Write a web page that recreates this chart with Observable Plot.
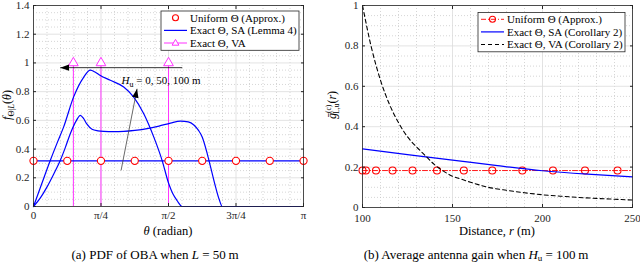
<!DOCTYPE html>
<html><head><meta charset="utf-8">
<script src="https://cdn.jsdelivr.net/npm/d3@7"></script>
<script src="https://cdn.jsdelivr.net/npm/@observablehq/plot@0.6"></script>
<style>
body{margin:0;background:#fff;}
#wrap{position:relative;width:640px;height:263px;overflow:hidden;font-family:"Liberation Serif",serif;}
.pl{position:absolute;top:0;}
.pl svg, .pl svg text{font-family:"Liberation Serif",serif !important;}
.cap{position:absolute;top:247px;font-size:13px;line-height:16px;white-space:nowrap;transform:translateX(-50%);color:#000;}
.cap sub{font-size:9px;vertical-align:-2px;line-height:0;}
</style></head><body>
<div id="wrap">
<div id="pa" class="pl" style="left:0"></div>
<div id="pb" class="pl" style="left:320px"></div>
<div class="cap" style="left:155px">(a) PDF of OBA when <i>L</i> = 50&#8201;m</div>
<div class="cap" style="left:476px">(b) Average antenna gain when <i>H</i><sub>u</sub> = 100&#8201;m</div>
</div>
<script>
// ---------- Panel (a) data ----------
const xTicksA = [0, Math.PI/4, Math.PI/2, 3*Math.PI/4, Math.PI];
const xTickLabelsA = ["0", "π/4", "π/2", "3π/4", "π"];
const yTicksA = [0, 0.2, 0.4, 0.6, 0.8, 1.0, 1.2, 1.4];
const yTickLabelsA = ["0", "0.2", "0.4", "0.6", "0.8", "1", "1.2", "1.4"];

// Exact Θ, SA, H_u = 0 (flat)
const thetaSA0 = [0, 3.1416];
const pdfSA0   = [0.318, 0.318];
// Exact Θ, SA, H_u = 50
const thetaSA50 = [0, 0.08, 0.156, 0.23, 0.311, 0.37, 0.428, 0.50, 0.545, 0.58, 0.62, 0.681, 0.75, 0.817, 0.93, 1.05, 1.18, 1.322, 1.46, 1.594, 1.711, 1.80, 1.866, 1.92, 1.964, 2.022, 2.061, 2.119, 2.16, 2.197, 3.1416];
const pdfSA50   = [0, 0.06, 0.135, 0.22, 0.32, 0.41, 0.507, 0.60, 0.635, 0.615, 0.575, 0.538, 0.527, 0.523, 0.521, 0.523, 0.53, 0.542, 0.56, 0.581, 0.595, 0.59, 0.568, 0.53, 0.483, 0.367, 0.274, 0.135, 0.05, 0, 0];
// Exact Θ, SA, H_u = 100
const thetaSA100 = [0, 0.1, 0.195, 0.28, 0.35, 0.466, 0.583, 0.661, 0.72, 0.778, 0.894, 1.05, 1.166, 1.283, 1.40, 1.497, 1.574, 1.62, 1.672, 1.731, 3.1416];
const pdfSA100   = [0, 0.165, 0.32, 0.45, 0.553, 0.762, 0.90, 0.95, 0.935, 0.912, 0.879, 0.832, 0.762, 0.646, 0.483, 0.32, 0.158, 0.09, 0.04, 0, 0];
// Uniform Θ (Approx.) markers
const thetaUni = [0, 0.393, 0.785, 1.178, 1.571, 1.963, 2.356, 2.749, 3.142];
const pdfUni   = [0.318, 0.318, 0.318, 0.318, 0.318, 0.318, 0.318, 0.318, 0.318];
// Exact Θ, VA (spikes)
const thetaVA = [0.464, 0.785, 1.571];
const pdfVA   = [1, 1, 1];
// Annotation arrows
const arrowX1 = [1.731, 1.019];
const arrowY1 = [0.967, 0.251];
const arrowX2 = [0.311, 1.205];
const arrowY2 = [0.967, 0.82];
const arrowColor = ["#000000", "#444444"];
const annotTheta = 1.03, annotVal = 0.875;

// ---------- Panel (b) data ----------
const xTicksB = [100, 150, 200, 250];
const yTicksB = [0, 0.2, 0.4, 0.6, 0.8, 1.0];
const yTickLabelsB = ["0", "0.2", "0.4", "0.6", "0.8", "1"];
const rUni = [100, 101.9, 107.5, 116.7, 127.8, 141.4, 156.3, 172.1, 188.8, 205.8, 223.6, 241.7];
const gUni = [0.183, 0.183, 0.183, 0.183, 0.183, 0.183, 0.183, 0.183, 0.183, 0.183, 0.183, 0.183];
const rUniLine = [100, 250];
const gUniLine = [0.183, 0.183];
const rSA = [100, 125, 150, 175, 200, 225, 250];
const gSA = [0.29, 0.262, 0.235, 0.207, 0.182, 0.165, 0.152];
const rVA = [100, 105, 110, 115, 120, 125, 130, 135, 140, 145, 150, 155, 160, 170, 180, 190, 200, 210, 220, 230, 240, 250];
const gVA = [1.0, 0.79, 0.63, 0.51, 0.42, 0.35, 0.30, 0.256, 0.212, 0.18, 0.155, 0.14, 0.125, 0.10, 0.085, 0.073, 0.063, 0.056, 0.05, 0.045, 0.041, 0.037];

// ---------- helpers ----------
const zip = (xs, ys, extra = {}) => xs.map((x, i) => ({x, y: ys[i], ...extra}));
const FONT = '"Liberation Serif", serif';
const AX = "#262626";
const MAJ = "#dcdcdc", MIN = "#c4c4c4";

function filledHead(color) {
  const ns = "http://www.w3.org/2000/svg";
  const m = document.createElementNS(ns, "marker");
  m.setAttribute("viewBox", "-9 -4 9 8");
  m.setAttribute("markerWidth", 9);
  m.setAttribute("markerHeight", 8);
  m.setAttribute("markerUnits", "userSpaceOnUse");
  m.setAttribute("orient", "auto");
  m.setAttribute("refX", 0);
  m.setAttribute("refY", 0);
  const p = document.createElementNS(ns, "path");
  p.setAttribute("d", "M-9,-3.2L0,0L-9,3.2Z");
  p.setAttribute("fill", "#000");
  p.setAttribute("stroke", "none");
  m.appendChild(p);
  return m;
}

function frameMarks(xt, yt, xMinor, yMinor) {
  return [
    Plot.gridX(xMinor, {stroke: MIN, strokeOpacity: 1, strokeWidth: 0.7, strokeDasharray: "1,2"}),
    Plot.gridY(yMinor, {stroke: MIN, strokeOpacity: 1, strokeWidth: 0.7, strokeDasharray: "1,2"}),
    Plot.gridX(xt, {stroke: MAJ, strokeOpacity: 1, strokeWidth: 0.8}),
    Plot.gridY(yt, {stroke: MAJ, strokeOpacity: 1, strokeWidth: 0.8}),
  ];
}
function axesMarks(xt, yt, xfmt, yfmt, xpad) {
  return [
    Plot.frame({stroke: AX, strokeWidth: 0.8}),
    Plot.axisX(xt, {anchor: "bottom", tickSize: -3, tickPadding: xpad, tickFormat: xfmt, label: null, stroke: AX, fill: AX}),
    Plot.axisX(xt, {anchor: "top", tickSize: -3, tickFormat: () => "", label: null, stroke: AX}),
    Plot.axisY(yt, {anchor: "left", tickSize: -3, tickPadding: 7, tickFormat: yfmt, label: null, stroke: AX, fill: AX}),
    Plot.axisY(yt, {anchor: "right", tickSize: -3, tickFormat: () => "", label: null, stroke: AX}),
  ];
}

// ---------- Panel (a) ----------
const xMinorA = d3.range(0, 21).filter(k => k % 5 !== 0).map(k => k * Math.PI / 20);
const yMinorA = d3.range(0, 29).filter(k => k % 4 !== 0).map(k => k * 0.05);
const labA = new Map(xTicksA.map((v, i) => [v, xTickLabelsA[i]]));
const labAy = new Map(yTicksA.map((v, i) => [v, yTickLabelsA[i]]));

const plotA = Plot.plot({
  width: 320, height: 240,
  marginLeft: 33, marginRight: 17, marginTop: 5, marginBottom: 34,
  style: {fontFamily: FONT, fontSize: "11px", background: "white", color: AX, overflow: "visible"},
  x: {domain: [0, Math.PI]},
  y: {domain: [0, 1.4]},
  marks: [
    ...frameMarks(xTicksA, yTicksA, xMinorA, yMinorA),
    Plot.ruleX(zip(thetaVA, pdfVA), {x: "x", y1: 0, y2: "y", stroke: "#ff33ff", strokeWidth: 1}),
    Plot.line(zip(thetaSA0, pdfSA0), {x: "x", y: "y", stroke: "#0000ff", strokeWidth: 1.2}),
    Plot.line(zip(thetaSA50, pdfSA50), {x: "x", y: "y", stroke: "#0000ff", strokeWidth: 1.2, curve: "monotone-x"}),
    Plot.line(zip(thetaSA100, pdfSA100), {x: "x", y: "y", stroke: "#0000ff", strokeWidth: 1.2, curve: "monotone-x"}),
    Plot.dot(zip(thetaUni, pdfUni), {x: "x", y: "y", r: 3.6, stroke: "#ff0000", strokeWidth: 1.1, fill: "white"}),
    Plot.dot(zip(thetaVA, pdfVA), {x: "x", y: "y", symbol: "triangle", r: 3.6, stroke: "#ff33ff", strokeWidth: 1, fill: "white"}),
    Plot.link(arrowX1.map((x, i) => ({x1: x, y1: arrowY1[i], x2: arrowX2[i], y2: arrowY2[i], c: arrowColor[i]})),
      {x1: "x1", y1: "y1", x2: "x2", y2: "y2", stroke: "c", strokeWidth: 0.8, markerEnd: filledHead}),
    ...axesMarks(xTicksA, yTicksA, d => labA.get(d), d => labAy.get(d), 8),
  ]
});
document.getElementById("pa").appendChild(plotA);

// ---------- Panel (b) ----------
const xMinorB = d3.range(100, 251, 10).filter(v => v % 50 !== 0);
const yMinorB = d3.range(0, 21).filter(k => k % 4 !== 0).map(k => k * 0.05);
const labBy = new Map(yTicksB.map((v, i) => [v, yTickLabelsB[i]]));

const plotB = Plot.plot({
  width: 320, height: 240,
  marginLeft: 42, marginRight: 8, marginTop: 5, marginBottom: 33,
  style: {fontFamily: FONT, fontSize: "11px", background: "white", color: AX, overflow: "visible"},
  x: {domain: [100, 250]},
  y: {domain: [0, 1]},
  marks: [
    ...frameMarks(xTicksB, yTicksB, xMinorB, yMinorB),
    Plot.line(zip(rUniLine, gUniLine), {x: "x", y: "y", stroke: "#ff0000", strokeWidth: 0.9, strokeDasharray: "5,2,1,2"}),
    Plot.dot(zip(rUni, gUni), {x: "x", y: "y", r: 3.5, stroke: "#ff0000", strokeWidth: 1.1, fill: "none"}),
    Plot.line(zip(rSA, gSA), {x: "x", y: "y", stroke: "#0000ff", strokeWidth: 1.2, curve: "monotone-x"}),
    Plot.line(zip(rVA, gVA), {x: "x", y: "y", stroke: "#000000", strokeWidth: 1.1, strokeDasharray: "4,3", curve: "monotone-x"}),
    ...axesMarks(xTicksB, yTicksB, d => String(d), d => labBy.get(d), 10),
  ]
});
document.getElementById("pb").appendChild(plotB);

// ---------- text overlays (labels, legends) ----------
function addLabel(svg, x, y, rot, anchor, parts, size) {
  const t = d3.select(svg).append("text")
    .attr("transform", `translate(${x},${y})` + (rot ? ` rotate(${rot})` : ""))
    .attr("text-anchor", anchor).attr("font-family", FONT).attr("font-size", size).attr("fill", "#000");
  for (const p of parts) {
    const s = t.append("tspan").text(p.t);
    if (p.i) s.attr("font-style", "italic");
    if (p.s) s.attr("font-size", p.s);
    if (p.dy) s.attr("dy", p.dy);
    if (p.dx) s.attr("dx", p.dx);
  }
  return t;
}

const svgA = plotA.tagName === "svg" ? plotA : plotA.querySelector("svg");
const svgB = plotB.tagName === "svg" ? plotB : plotB.querySelector("svg");
const xA = plotA.scale("x"), yA = plotA.scale("y");

// Axis titles
addLabel(svgA, 168, 235, 0, "middle", [{t: "θ", i: 1}, {t: " (radian)"}], 12.5);
addLabel(svgB, 177, 235, 0, "middle", [{t: "Distance, "}, {t: "r", i: 1}, {t: " (m)"}], 12.5);
addLabel(svgA, 11, 105, -90, "middle", [{t: "f", i: 1}, {t: "Θ|", s: 8.5, dy: 3}, {t: "L", i: 1, s: 8.5}, {t: "(", dy: -3}, {t: "θ", i: 1}, {t: ")"}], 12);
addLabel(svgB, 16, 105, -90, "middle", [{t: "ḡ", i: 1}, {t: "(c)", s: 7.5, dy: -5}, {t: "L,u", s: 7.5, dy: 8, dx: -9}, {t: "(", dy: -3}, {t: "r", i: 1}, {t: ")"}], 12);

// Annotation
addLabel(svgA, xA.apply(annotTheta), yA.apply(annotVal) + 4, 0, "start",
  [{t: "H", i: 1}, {t: "u", s: 8, dy: 2.5}, {t: " = 0, 50, 100 m", dy: -2.5}], 11);

// Legends
function legend(svg, x0, y0, w, rows) {
  const g = d3.select(svg).append("g");
  g.append("rect").attr("x", x0).attr("y", y0).attr("width", w).attr("height", rows.length * 12.6 + 1.5)
    .attr("fill", "white").attr("stroke", AX).attr("stroke-width", 0.8);
  rows.forEach((r, i) => {
    const cy = y0 + 6.8 + i * 12.6;
    const lx1 = x0 + 3, lx2 = x0 + 26, mx = (lx1 + lx2) / 2;
    if (r.line) g.append("line").attr("x1", lx1).attr("x2", lx2).attr("y1", cy).attr("y2", cy)
      .attr("stroke", r.color).attr("stroke-width", r.w || 1.2).attr("stroke-dasharray", r.dash || null);
    if (r.marker === "circle") g.append("circle").attr("cx", mx).attr("cy", cy).attr("r", 3)
      .attr("fill", "white").attr("stroke", r.mcolor).attr("stroke-width", 1.1);
    if (r.marker === "ring") g.append("circle").attr("cx", mx).attr("cy", cy).attr("r", 3)
      .attr("fill", "none").attr("stroke", r.mcolor).attr("stroke-width", 1.1);
    if (r.marker === "triangle") g.append("path").attr("d", `M${mx},${cy-3.6}L${mx+3.4},${cy+2.2}L${mx-3.4},${cy+2.2}Z`)
      .attr("fill", "white").attr("stroke", r.mcolor).attr("stroke-width", 1);
    g.append("text").attr("x", lx2 + 3).attr("y", cy + 3.8).attr("text-anchor", "start")
      .attr("font-family", FONT).attr("font-size", 11).attr("fill", "#000").text(r.label);
  });
}
legend(svgA, 161, 11, 138, [
  {marker: "circle", mcolor: "#ff0000", label: "Uniform Θ (Approx.)"},
  {line: true, color: "#0000ff", label: "Exact Θ, SA (Lemma 4)"},
  {line: true, color: "#ff33ff", w: 1, marker: "triangle", mcolor: "#ff33ff", label: "Exact Θ, VA"},
]);
legend(svgB, 158, 12.5, 147, [
  {line: true, color: "#ff0000", w: 0.9, dash: "5,2,1,2", marker: "ring", mcolor: "#ff0000", label: "Uniform Θ (Approx.)"},
  {line: true, color: "#0000ff", label: "Exact Θ, SA (Corollary 2)"},
  {line: true, color: "#000000", dash: "4,3", label: "Exact Θ, VA (Corollary 2)"},
]);
</script>
</body></html>
